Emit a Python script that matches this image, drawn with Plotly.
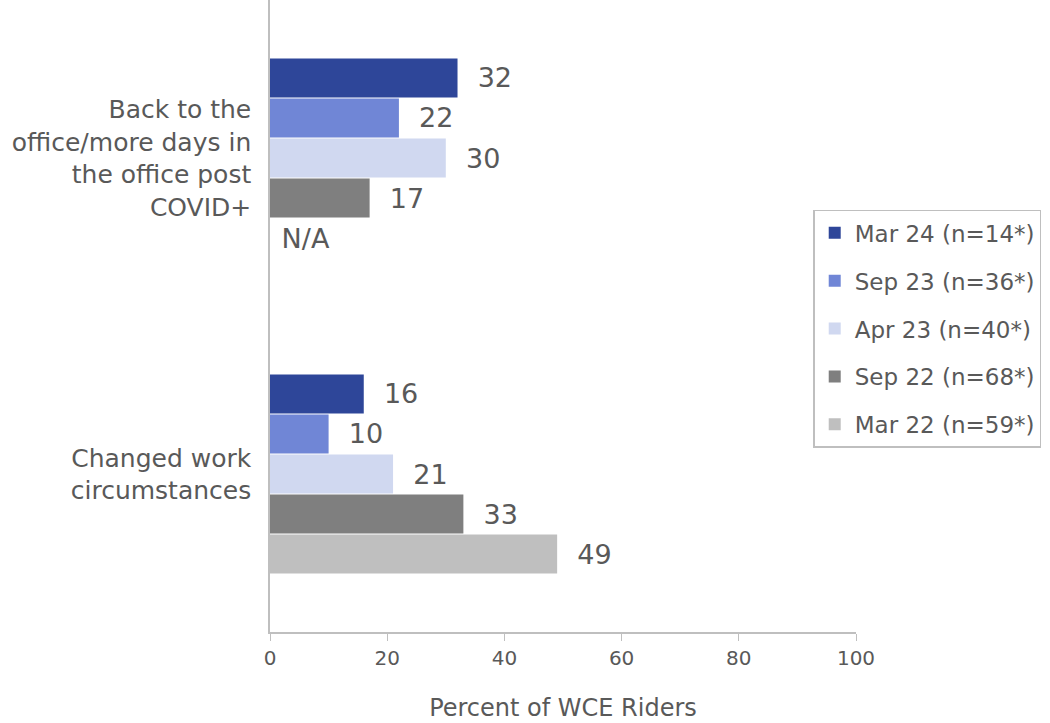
import plotly.graph_objects as go

categories = ["Back to the<br>office/more days in<br>the office post<br>COVID+",
              "Changed work<br>circumstances"]
series_names = ["Mar 24 (n=14*)", "Sep 23 (n=36*)", "Apr 23 (n=40*)",
                "Sep 22 (n=68*)", "Mar 22 (n=59*)"]
mar24 = [32, 16]
sep23 = [22, 10]
apr23 = [30, 21]
sep22 = [17, 33]
mar22 = [None, 49]
colors = ["#2E4699", "#7086D6", "#D0D8F0", "#7F7F7F", "#BFBFBF"]
x_ticks = [0, 20, 40, 60, 80, 100]

FONT = "DejaVu Sans"
TXT = "#595959"

fig = go.Figure()
for i, (name, vals, col) in enumerate(zip(series_names, [mar24, sep23, apr23, sep22, mar22], colors)):
    xs = [0 if v is None else v for v in vals]
    labels = [" N/A" if v is None else f"  {v}" for v in vals]
    fig.add_trace(go.Bar(
        y=categories, x=xs, name=name, orientation="h",
        marker=dict(color=col, line=dict(width=0)),
        text=labels, textposition="outside", cliponaxis=False,
        textfont=dict(family=FONT, size=27, color=TXT),
        legendgroup=f"g{i}", hoverinfo="skip",
    ))

fig.update_layout(
    width=1050, height=723,
    margin=dict(l=270, r=194, t=0, b=91),
    paper_bgcolor="white", plot_bgcolor="white",
    barmode="group", bargap=0.367, bargroupgap=0.03,
    font=dict(family=FONT, color=TXT),
    showlegend=True,
    legend=dict(
        x=0.927, y=0.668, xanchor="left", yanchor="top",
        bordercolor="#BFBFBF", borderwidth=1.5, bgcolor="white",
        font=dict(family=FONT, size=23, color=TXT),
        traceorder="grouped", tracegroupgap=15,
    ),
    xaxis=dict(
        range=[0, 100], tickvals=x_ticks, ticks="outside", ticklen=7,
        tickcolor="#BFBFBF", showline=True, linecolor="#BFBFBF", linewidth=1.5,
        showgrid=False, zeroline=False,
        tickfont=dict(family=FONT, size=20, color=TXT),
        title=dict(text="Percent of WCE Riders", standoff=30,
                   font=dict(family=FONT, size=24, color=TXT)),
    ),
    yaxis=dict(
        autorange="reversed", showline=True, linecolor="#BFBFBF", linewidth=1.5,
        showgrid=False, ticks="", ticklabelstandoff=12,
        tickfont=dict(family=FONT, size=25, color=TXT),
    ),
)

fig.write_html("out.html")
